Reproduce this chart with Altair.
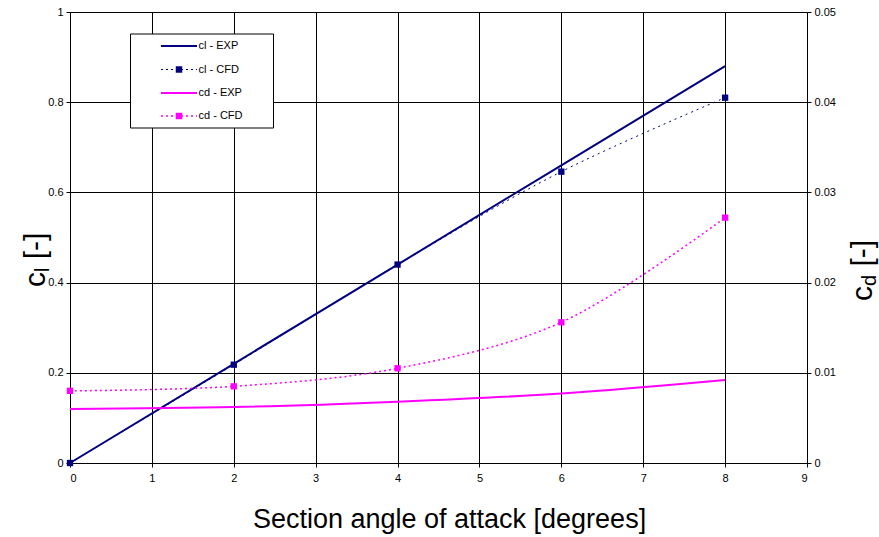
import altair as alt
import pandas as pd

# ---- data ----
aoa = [0, 2, 4, 6, 8]
cl_exp = [0.0, 0.22, 0.44, 0.66, 0.88]
cl_cfd = [0.0, 0.218, 0.44, 0.646, 0.81]
cd_exp = [0.0060, 0.0062, 0.0068, 0.0077, 0.0092]
cd_cfd = [0.0080, 0.0085, 0.0105, 0.0156, 0.0272]

x_ticks = list(range(0, 10))
cl_ticks = [0, 0.2, 0.4, 0.6, 0.8, 1]
cd_ticks = [0, 0.01, 0.02, 0.03, 0.04, 0.05]

legend_labels = ["cl - EXP", "cl - CFD", "cd - EXP", "cd - CFD"]

NAVY = "#000080"
MAGENTA = "#FF00FF"
FONT = "Liberation Sans"

df = pd.DataFrame({"aoa": aoa, "cl_exp": cl_exp, "cl_cfd": cl_cfd,
                   "cd_exp": cd_exp, "cd_cfd": cd_cfd})

W, H = 737, 451

xenc = alt.X("aoa:Q",
             scale=alt.Scale(domain=[0, 9], nice=False, zero=False),
             axis=alt.Axis(values=x_ticks, grid=True, gridColor="#000000",
                           gridWidth=1, gridOpacity=1, domainColor="#000000",
                           tickColor="#000000", tickSize=4, labelFontSize=11,
                           labelFont=FONT, labelColor="#000000", labelPadding=5,
                           title="Section angle of attack [degrees]",
                           titleFont=FONT, titleFontSize=27,
                           titleFontWeight="normal", titleColor="#000000",
                           titleX=379, titleY=64, titleBaseline="alphabetic",
                           titleAnchor="middle"))

cl_scale = alt.Scale(domain=[0, 1], nice=False, zero=False)
cd_scale = alt.Scale(domain=[0, 0.05], nice=False, zero=False)

cl_axis = alt.Axis(values=cl_ticks, grid=True, gridColor="#000000", gridWidth=1,
                   gridOpacity=1, domainColor="#000000", tickColor="#000000",
                   tickSize=4, labelFontSize=11, labelFont=FONT,
                   labelColor="#000000", labelPadding=3, title=None,
                   labelExpr="format(datum.value, '~g')", orient="left")
cd_axis = alt.Axis(values=cd_ticks, grid=False, domainColor="#000000",
                   tickColor="#000000", tickSize=4, labelFontSize=11,
                   labelFont=FONT, labelColor="#000000", labelPadding=3,
                   title=None, labelExpr="format(datum.value, '~g')",
                   orient="right")

base = alt.Chart(df)

cl_exp_line = base.mark_line(color=NAVY, strokeWidth=2).encode(
    x=xenc, y=alt.Y("cl_exp:Q", scale=cl_scale, axis=cl_axis))
cl_cfd_line = base.mark_line(color=NAVY, strokeWidth=1, strokeDash=[2, 4],
                             interpolate="catmull-rom").encode(
    x=xenc, y=alt.Y("cl_cfd:Q", scale=cl_scale, axis=cl_axis))
cl_cfd_pts = base.mark_square(color=NAVY, size=40, opacity=1).encode(
    x=xenc, y=alt.Y("cl_cfd:Q", scale=cl_scale, axis=cl_axis))

cd_exp_line = base.mark_line(color=MAGENTA, strokeWidth=2,
                             interpolate="catmull-rom").encode(
    x=xenc, y=alt.Y("cd_exp:Q", scale=cd_scale, axis=cd_axis))
cd_cfd_line = base.mark_line(color=MAGENTA, strokeWidth=1.5, strokeDash=[2, 3],
                             interpolate="catmull-rom").encode(
    x=xenc, y=alt.Y("cd_cfd:Q", scale=cd_scale, axis=cd_axis))
cd_cfd_pts = base.mark_square(color=MAGENTA, size=40, opacity=1).encode(
    x=xenc, y=alt.Y("cd_cfd:Q", scale=cd_scale, axis=cd_axis))

left = alt.layer(cl_exp_line, cl_cfd_line, cl_cfd_pts)
right = alt.layer(cd_exp_line, cd_cfd_line, cd_cfd_pts)

# ---- legend (drawn manually, positions relative to plot origin) ----
one = pd.DataFrame({"k": [0]})
ox, oy = 70, 12
leg_layers = []
leg_layers.append(alt.Chart(one).mark_rect(fill="white", stroke="#000000",
                                           strokeWidth=1).encode(
    x=alt.value(130.5 - ox), x2=alt.value(273.5 - ox),
    y=alt.value(34 - oy), y2=alt.value(128 - oy)))
row_y = [46, 69.5, 93, 116]
styles = [(NAVY, 2, None, False), (NAVY, 1, [2, 3], True),
          (MAGENTA, 2, None, False), (MAGENTA, 1.5, [2, 3], True)]
for lab, yy, (col, sw, dash, pt) in zip(legend_labels, row_y, styles):
    kw = dict(color=col, strokeWidth=sw)
    if dash:
        kw["strokeDash"] = dash
    leg_layers.append(alt.Chart(one).mark_rule(**kw).encode(
        x=alt.value(161 - ox), x2=alt.value(197 - ox), y=alt.value(yy - oy)))
    if pt:
        leg_layers.append(alt.Chart(one).mark_square(color=col, size=42,
                                                     opacity=1).encode(
            x=alt.value(179 - ox), y=alt.value(yy - oy)))
    leg_layers.append(alt.Chart(one).mark_text(
        text=lab, font=FONT, fontSize=11, color="#000000", align="left",
        baseline="middle").encode(x=alt.value(198.5 - ox), y=alt.value(yy - oy)))

# ---- y axis titles with subscripts ----
BIG, SMALL = 30, 20
def ytitle(x_base, y_start, sub):
    sub_w = 0.222 * SMALL if sub == "l" else 0.556 * SMALL
    c_w = 0.5 * BIG
    space_w = 0.278 * BIG
    parts = []
    parts.append(alt.Chart(one).mark_text(
        text="c", font=FONT, fontSize=BIG, color="#000000", angle=270,
        align="left", baseline="alphabetic").encode(
        x=alt.value(x_base - ox), y=alt.value(y_start - oy)))
    parts.append(alt.Chart(one).mark_text(
        text=sub, font=FONT, fontSize=SMALL, color="#000000", angle=270,
        align="left", baseline="alphabetic").encode(
        x=alt.value(x_base + 4 - ox), y=alt.value(y_start - c_w - oy)))
    parts.append(alt.Chart(one).mark_text(
        text="[-]", font=FONT, fontSize=BIG, color="#000000", angle=270,
        align="left", baseline="alphabetic").encode(
        x=alt.value(x_base - ox),
        y=alt.value(y_start - c_w - sub_w - space_w - oy)))
    return parts

titles = ytitle(45, 287, "l") + ytitle(872, 301, "d")

chart = alt.layer(left, right, *leg_layers, *titles).resolve_scale(
    y="independent"
).properties(
    width=W, height=H,
    padding={"left": 70, "top": 12, "right": 72, "bottom": 74},
    autosize=alt.AutoSizeParams(type="none"),
    background="white",
).configure_view(stroke=None)

chart.save("out.html", embed_options={"renderer": "svg", "actions": False})
